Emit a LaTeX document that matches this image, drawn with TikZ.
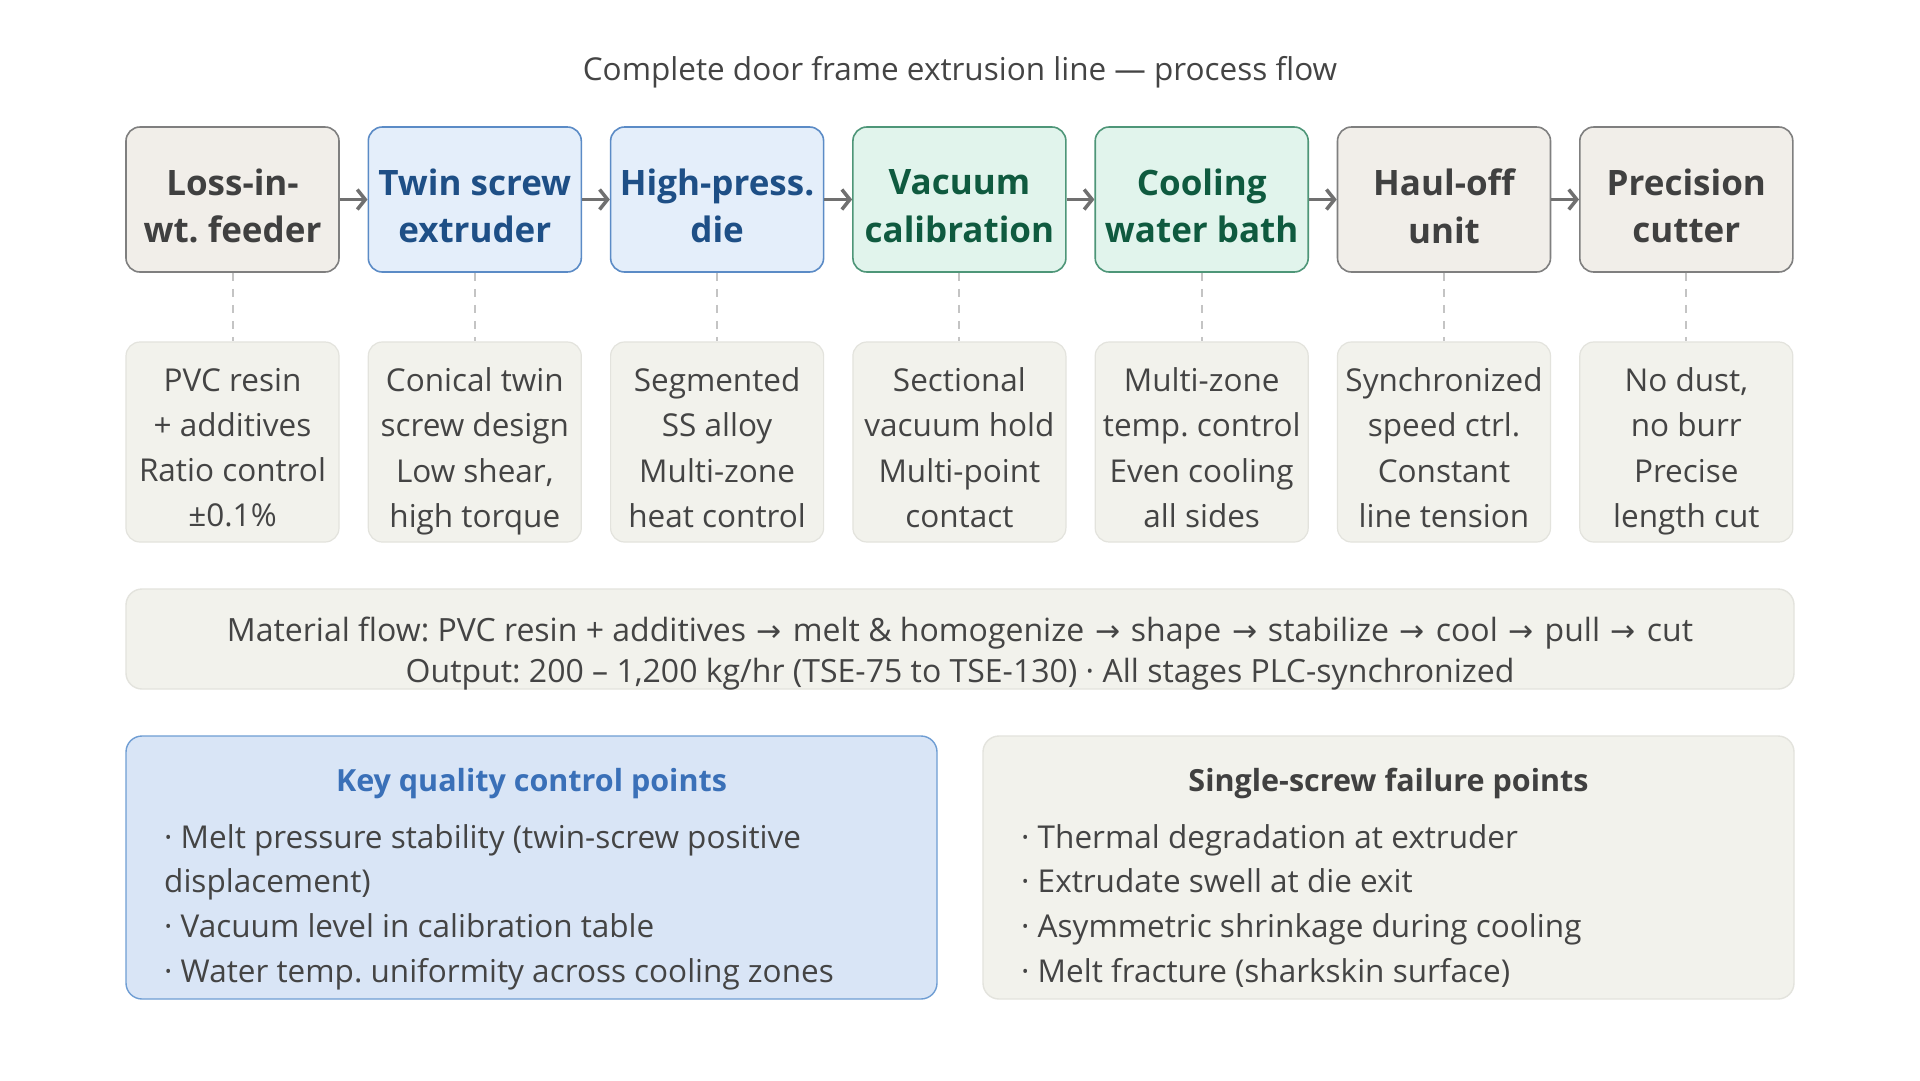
\documentclass[tikz,border=0pt]{standalone}
\usepackage{fontspec}
\setmainfont{Open Sans}
\newfontfamily\arr{DejaVu Sans}
\usetikzlibrary{arrows.meta}
\definecolor{gfill}{HTML}{F1EEE9}
\definecolor{gdraw}{HTML}{7F7F7F}
\definecolor{gtext}{HTML}{404040}
\definecolor{bfill}{HTML}{E4EEFA}
\definecolor{bdraw}{HTML}{5B8BC6}
\definecolor{btext}{HTML}{1E4F86}
\definecolor{tfill}{HTML}{E1F4EC}
\definecolor{tdraw}{HTML}{4E9678}
\definecolor{ttext}{HTML}{0F5A3F}
\definecolor{dfill}{HTML}{F2F2EC}
\definecolor{ddraw}{HTML}{E3E3DD}
\definecolor{dtext}{HTML}{444444}
\definecolor{kfill}{HTML}{D9E5F6}
\definecolor{kdraw}{HTML}{6E9DD3}
\definecolor{ktitle}{HTML}{3A70B8}
\definecolor{arrgray}{HTML}{707070}
\definecolor{dashgray}{HTML}{C4C4C4}
\definecolor{titlegray}{HTML}{444444}
\newcommand{\flowarr}{\kern2.5pt{\arr\fontsize{30}{40}\selectfont →}\kern2.5pt}
\tikzset{
  stage/.style={draw, rounded corners=14pt, line width=1.6pt, minimum width=213pt,
    minimum height=145pt, inner sep=0pt},
  stagelabel/.style={align=center, inner sep=0pt, yshift=-13.5pt,
    execute at begin node=\strut, execute at end node=\strut,
    font=\bfseries\fontsize{35}{47.5}\selectfont},
  graystage/.style={stage, fill=gfill, draw=gdraw},
  bluestage/.style={stage, fill=bfill, draw=bdraw},
  tealstage/.style={stage, fill=tfill, draw=tdraw},
  graylabel/.style={stagelabel, text=gtext},
  bluelabel/.style={stagelabel, text=btext},
  teallabel/.style={stagelabel, text=ttext},
  detail/.style={draw=ddraw, fill=dfill, rounded corners=14pt, line width=1.2pt,
    minimum width=213pt, minimum height=200pt, inner sep=0pt},
  detaillabel/.style={align=center, inner sep=0pt, yshift=-12.2pt,
    execute at begin node=\strut, execute at end node=\strut,
    text=dtext, font=\fontsize{31.5}{45.3}\selectfont},
  flowarrow/.style={draw=arrgray, line width=3.5pt, -{Straight Barb[length=8pt,width=20pt]}},
  dashline/.style={draw=dashgray, line width=2pt, dash pattern=on 8pt off 8pt},
  infobox/.style={rounded corners=16pt, line width=1.4pt, inner sep=0pt},
  itemtext/.style={anchor=base west, text=dtext, inner sep=0pt, font=\fontsize{31.5}{36}\selectfont},
  boxtitle/.style={inner sep=0pt, font=\bfseries\fontsize{30.5}{36}\selectfont},
}
\begin{document}
\frenchspacing
\begin{tikzpicture}[x=1pt,y=-1pt]
\useasboundingbox[fill=white] (0,0) rectangle (1920,1080);

\node[text=titlegray, inner sep=0pt, font=\fontsize{31.5}{36}\selectfont] (title) at (960,72)
  {Complete door frame extrusion line — process flow};

% stages
\node[graystage, label={[graylabel]center:Loss-in-\\wt. feeder}] (s1) at (232.5,199.5) {};
\node[bluestage, label={[bluelabel]center:Twin screw\\extruder}] (s2) at (474.8,199.5) {};
\node[bluestage, label={[bluelabel]center:High-press.\\die}] (s3) at (717.1,199.5) {};
\node[tealstage, label={[teallabel]center:Vacuum\\calibration}] (s4) at (959.4,199.5) {};
\node[tealstage, label={[teallabel]center:Cooling\\water bath}] (s5) at (1201.7,199.5) {};
\node[graystage, label={[graylabel]center:Haul-off\\unit}] (s6) at (1444.0,199.5) {};
\node[graystage, label={[graylabel]center:Precision\\cutter}] (s7) at (1686.3,199.5) {};

\foreach \a/\b in {s1/s2,s2/s3,s3/s4,s4/s5,s5/s6,s6/s7}
  \draw[flowarrow] (\a.east) -- (\b.west);

% details
\node[detail, label={[detaillabel]center:PVC resin\\+ additives\\Ratio control\\±0.1\%}] (d1) at (232.5,442) {};
\node[detail, label={[detaillabel]center:{Conical twin\\screw design\\Low shear,\\high torque}}] (d2) at (474.8,442) {};
\node[detail, label={[detaillabel]center:Segmented\\SS alloy\\Multi-zone\\heat control}] (d3) at (717.1,442) {};
\node[detail, label={[detaillabel]center:Sectional\\vacuum hold\\Multi-point\\contact}] (d4) at (959.4,442) {};
\node[detail, label={[detaillabel]center:Multi-zone\\temp. control\\Even cooling\\all sides}] (d5) at (1201.7,442) {};
\node[detail, label={[detaillabel]center:Synchronized\\speed ctrl.\\Constant\\line tension}] (d6) at (1444.0,442) {};
\node[detail, label={[detaillabel]center:{No dust,\\no burr\\Precise\\length cut}}] (d7) at (1686.3,442) {};

\foreach \i in {1,...,7}
  \draw[dashline] (s\i.south) -- (d\i.north);

% material flow
\node[infobox, draw=ddraw, fill=dfill, minimum width=1668pt, minimum height=100pt] (flow) at (960,639) {};
\node[align=center, text=dtext, inner sep=0pt, font=\fontsize{32}{40.5}\selectfont] (flowtext) at (960,653.5)
  {Material flow: PVC resin + additives \flowarr{} melt \& homogenize \flowarr{} shape \flowarr{} stabilize \flowarr{} cool \flowarr{} pull \flowarr{} cut\\
   Output: 200 – 1,200 kg/hr (TSE-75 to TSE-130) · All stages PLC-synchronized};

% key quality box
\node[infobox, draw=kdraw, fill=kfill, minimum width=811pt, minimum height=263pt] (kq) at (531.5,867.5) {};
\node[boxtitle, text=ktitle] (kqt) at (531.5,783.5) {Key quality control points};
\node[itemtext] (k1) at (164,848.5) {· Melt pressure stability (twin-screw positive};
\node[itemtext] (k1b) at (164,892.5) {displacement)};
\node[itemtext] (k2) at (164,937.5) {· Vacuum level in calibration table};
\node[itemtext] (k3) at (164,982.5) {· Water temp. uniformity across cooling zones};

% single screw box
\node[infobox, draw=ddraw, fill=dfill, minimum width=811pt, minimum height=263pt] (ss) at (1388.5,867.5) {};
\node[boxtitle, text=gtext] (sst) at (1388.5,783.5) {Single-screw failure points};
\node[itemtext] (f1) at (1021,848.5) {· Thermal degradation at extruder};
\node[itemtext] (f2) at (1021,892.5) {· Extrudate swell at die exit};
\node[itemtext] (f3) at (1021,937.5) {· Asymmetric shrinkage during cooling};
\node[itemtext] (f4) at (1021,982.5) {· Melt fracture (sharkskin surface)};
\end{tikzpicture}
\end{document}
